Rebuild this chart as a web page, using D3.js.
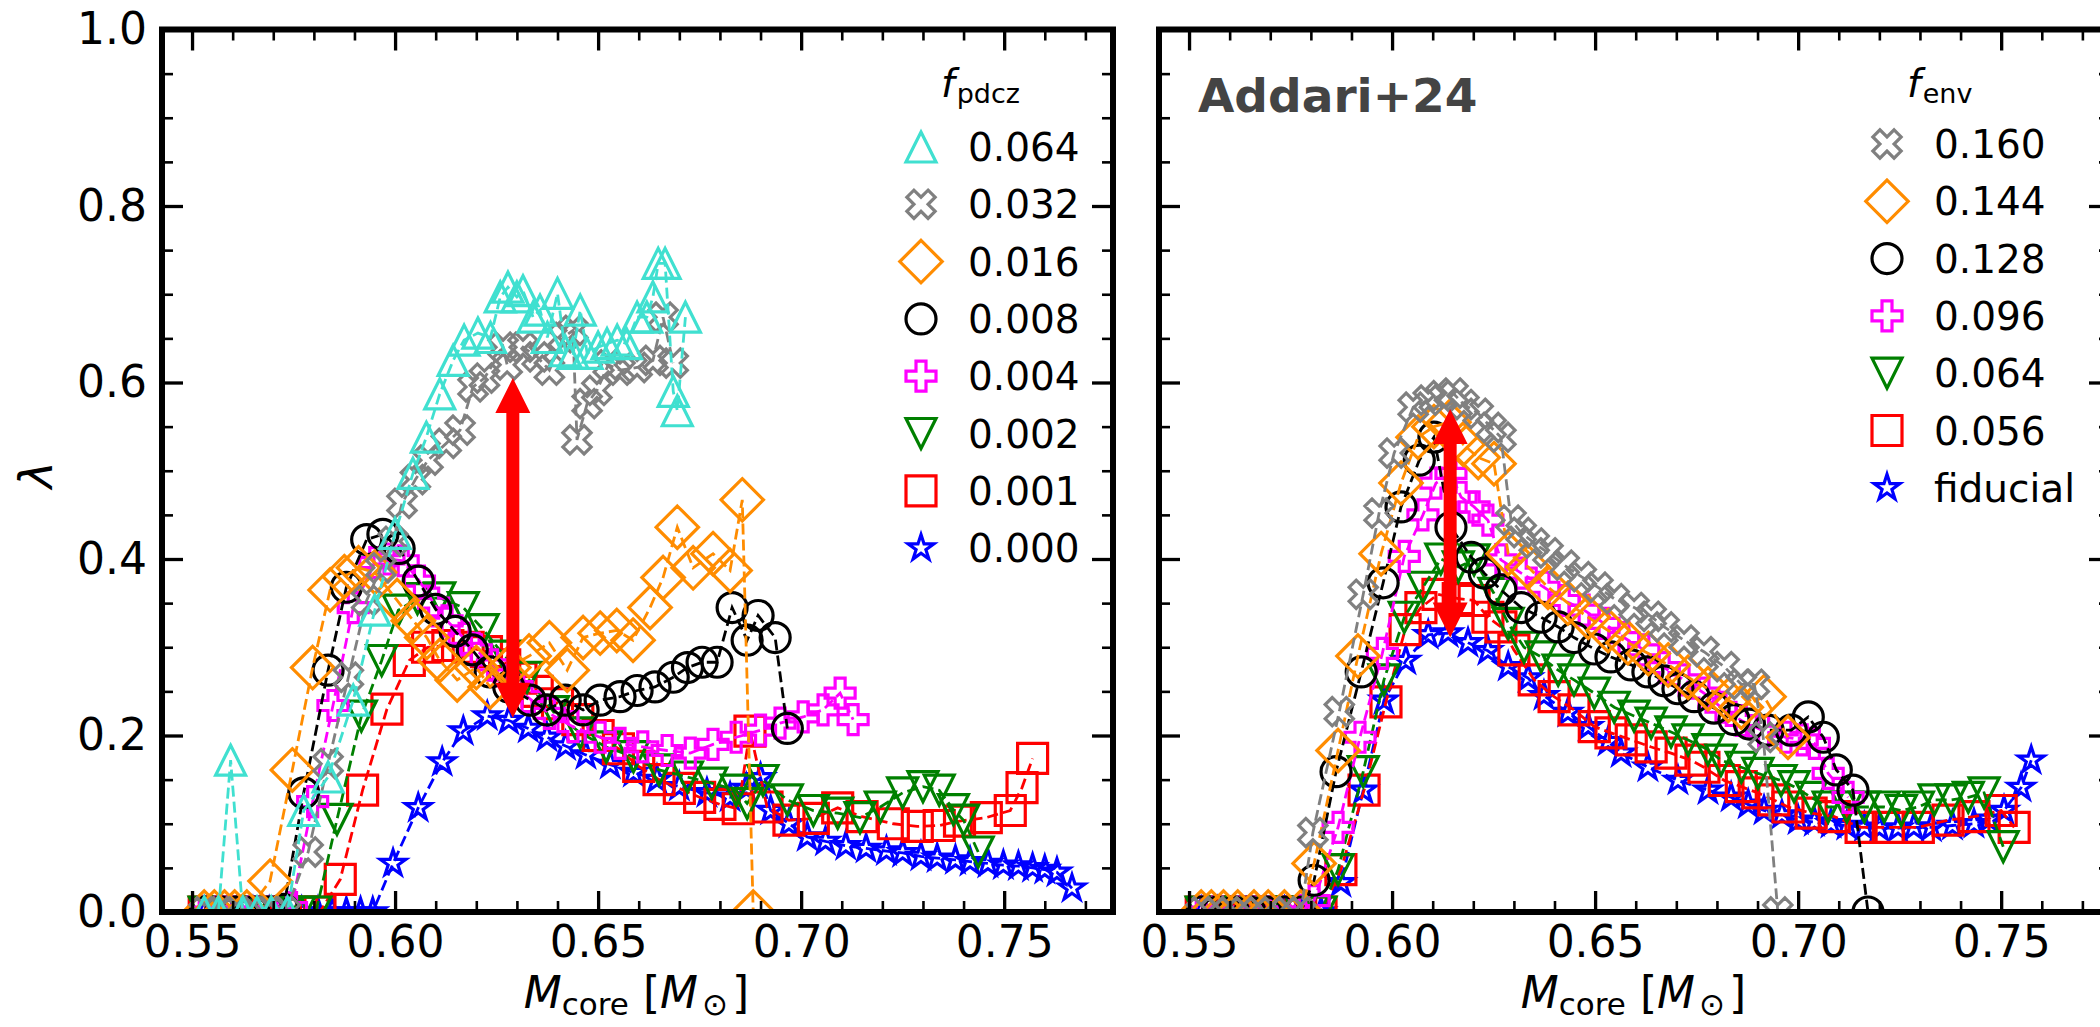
<!DOCTYPE html>
<html>
<head>
<meta charset="utf-8">
<script src="https://cdn.jsdelivr.net/npm/d3@7"></script>
<style>
  html, body { margin: 0; padding: 0; background: #fff; }
  svg { display: block; }
  text { font-family: 'DejaVu Sans', sans-serif; }
</style>
</head>
<body>
<svg id="chart" width="2100" height="1027"></svg>
<script>
(function () {

'use strict';

// ---- left panel: f_pdcz runs, [M_core, lambda] ----
var pdcz064 = [[0.553,0],[0.5565,0],[0.5595,0.172],[0.5625,0],[0.566,0],[0.5695,0],[0.5735,0],[0.5775,0.115],[0.5835,0.153],[0.5897,0.24],[0.595,0.342],[0.600,0.429],[0.6044,0.497],[0.6077,0.538],[0.611,0.587],[0.6143,0.625],[0.617,0.648],[0.6204,0.656],[0.6235,0.651],[0.6259,0.697],[0.6278,0.708],[0.630,0.697],[0.6315,0.704],[0.634,0.674],[0.6357,0.682],[0.6375,0.651],[0.640,0.701],[0.6419,0.636],[0.6438,0.633],[0.6456,0.682],[0.6473,0.633],[0.650,0.64],[0.6522,0.644],[0.6547,0.648],[0.657,0.644],[0.6596,0.674],[0.662,0.674],[0.6635,0.697],[0.6648,0.735],[0.6665,0.735],[0.6685,0.59],[0.6695,0.568],[0.6715,0.674]];
var pdcz032 = [[0.553,0],[0.557,0],[0.561,0],[0.565,0],[0.569,0],[0.573,0],[0.5786,0.068],[0.5835,0.168],[0.5885,0.266],[0.593,0.353],[0.5965,0.39],[0.5995,0.42],[0.6017,0.463],[0.605,0.49],[0.6081,0.512],[0.6126,0.531],[0.616,0.546],[0.6192,0.595],[0.622,0.605],[0.6266,0.64],[0.6276,0.62],[0.6315,0.64],[0.635,0.629],[0.638,0.614],[0.6414,0.651],[0.6438,0.659],[0.6448,0.535],[0.6473,0.576],[0.6497,0.591],[0.6525,0.62],[0.6554,0.614],[0.6596,0.617],[0.6635,0.625],[0.666,0.674],[0.6685,0.622]];
var pdcz016 = [[0.553,0],[0.5555,0],[0.558,0],[0.5605,0],[0.5635,0],[0.5692,0.035],[0.5747,0.161],[0.5797,0.277],[0.584,0.365],[0.5875,0.38],[0.591,0.39],[0.595,0.385],[0.6005,0.353],[0.6045,0.33],[0.6078,0.311],[0.611,0.285],[0.6153,0.263],[0.620,0.277],[0.6234,0.255],[0.628,0.277],[0.633,0.29],[0.638,0.305],[0.6424,0.274],[0.6463,0.311],[0.6505,0.316],[0.6546,0.319],[0.6586,0.308],[0.6628,0.345],[0.666,0.379],[0.6695,0.436],[0.6734,0.39],[0.6783,0.406],[0.6825,0.387],[0.6855,0.467],[0.6882,0]];
var pdcz008 = [[0.553,0],[0.557,0],[0.561,0],[0.565,0],[0.569,0],[0.5725,0.003],[0.5775,0.135],[0.5835,0.274],[0.588,0.368],[0.593,0.422],[0.597,0.428],[0.601,0.412],[0.6057,0.375],[0.61,0.343],[0.6148,0.318],[0.619,0.297],[0.6234,0.272],[0.628,0.255],[0.6333,0.24],[0.6374,0.229],[0.6419,0.24],[0.6463,0.229],[0.6505,0.24],[0.6554,0.244],[0.6596,0.251],[0.664,0.255],[0.6685,0.266],[0.672,0.277],[0.6756,0.283],[0.6793,0.283],[0.683,0.345],[0.6867,0.308],[0.6894,0.336],[0.6936,0.311],[0.6966,0.208]];
var pdcz004 = [[0.553,0],[0.557,0],[0.561,0],[0.565,0],[0.5695,0],[0.5745,0.005],[0.5797,0.125],[0.5847,0.234],[0.5897,0.345],[0.595,0.396],[0.5985,0.40],[0.602,0.398],[0.606,0.375],[0.6095,0.35],[0.6128,0.33],[0.617,0.31],[0.620,0.297],[0.624,0.28],[0.628,0.262],[0.6325,0.244],[0.638,0.225],[0.6438,0.21],[0.6505,0.198],[0.6554,0.191],[0.661,0.187],[0.667,0.183],[0.6727,0.18],[0.6783,0.19],[0.684,0.198],[0.690,0.206],[0.6948,0.214],[0.7005,0.221],[0.7054,0.229],[0.7096,0.248],[0.7128,0.218]];
var pdcz002 = [[0.553,0],[0.557,0],[0.561,0],[0.565,0],[0.569,0],[0.573,0],[0.5765,0],[0.5805,0],[0.5857,0.105],[0.5917,0.222],[0.5967,0.285],[0.6008,0.342],[0.6055,0.355],[0.611,0.356],[0.6168,0.345],[0.6217,0.32],[0.627,0.29],[0.6325,0.266],[0.639,0.227],[0.6456,0.203],[0.652,0.187],[0.6587,0.176],[0.665,0.161],[0.672,0.153],[0.678,0.146],[0.684,0.138],[0.6867,0.123],[0.6906,0.149],[0.6966,0.127],[0.703,0.115],[0.709,0.112],[0.7145,0.107],[0.7195,0.119],[0.725,0.135],[0.730,0.142],[0.734,0.138],[0.7375,0.116],[0.74,0.104],[0.7436,0.068]];
var pdcz001 = [[0.553,0],[0.557,0],[0.561,0],[0.565,0],[0.569,0],[0.573,0],[0.577,0],[0.5815,0],[0.5865,0.037],[0.592,0.138],[0.598,0.23],[0.6035,0.285],[0.608,0.30],[0.613,0.302],[0.618,0.30],[0.6225,0.295],[0.627,0.28],[0.631,0.265],[0.635,0.25],[0.64,0.236],[0.645,0.218],[0.65,0.2],[0.655,0.185],[0.66,0.165],[0.665,0.15],[0.67,0.14],[0.675,0.13],[0.68,0.122],[0.6845,0.117],[0.6874,0.205],[0.6916,0.119],[0.697,0.104],[0.703,0.106],[0.709,0.118],[0.715,0.108],[0.7227,0.1],[0.7286,0.097],[0.734,0.098],[0.739,0.103],[0.7456,0.107],[0.7515,0.115],[0.7544,0.141],[0.757,0.174]];
var pdcz000 = [[0.553,0],[0.557,0],[0.561,0],[0.565,0],[0.569,0],[0.573,0],[0.577,0],[0.581,0],[0.5845,0],[0.588,0],[0.5915,0],[0.5945,0],[0.5995,0.055],[0.6057,0.118],[0.6116,0.17],[0.6168,0.205],[0.6227,0.222],[0.628,0.217],[0.6328,0.208],[0.6374,0.198],[0.642,0.188],[0.647,0.178],[0.653,0.167],[0.6587,0.158],[0.6645,0.15],[0.670,0.142],[0.6768,0.135],[0.6825,0.13],[0.6865,0.14],[0.690,0.152],[0.6925,0.115],[0.697,0.1],[0.7015,0.085],[0.706,0.08],[0.711,0.075],[0.716,0.072],[0.721,0.069],[0.725,0.067],[0.7295,0.063],[0.7335,0.061],[0.738,0.059],[0.7416,0.057],[0.746,0.055],[0.7498,0.053],[0.7535,0.052],[0.757,0.05],[0.760,0.048],[0.763,0.045],[0.7667,0.027]];

// ---- right panel: f_env runs ----
var env160 = [[0.553,0],[0.5565,0],[0.56,0],[0.5635,0],[0.567,0],[0.5705,0],[0.574,0],[0.5775,0],[0.5805,0.09],[0.587,0.227],[0.5929,0.36],[0.5968,0.452],[0.6005,0.52],[0.6052,0.572],[0.6089,0.58],[0.612,0.585],[0.615,0.588],[0.6177,0.575],[0.6212,0.565],[0.6244,0.549],[0.6268,0.538],[0.6293,0.444],[0.6318,0.43],[0.635,0.418],[0.6384,0.407],[0.6424,0.393],[0.6466,0.38],[0.6507,0.368],[0.6547,0.355],[0.6596,0.345],[0.6638,0.335],[0.667,0.323],[0.6719,0.308],[0.6768,0.295],[0.6818,0.278],[0.686,0.258],[0.6892,0.258],[0.6914,0.198],[0.695,0]];
var env144 = [[0.553,0],[0.5555,0],[0.5585,0],[0.562,0],[0.566,0],[0.5695,0],[0.5735,0],[0.5775,0],[0.5808,0.055],[0.5867,0.183],[0.5916,0.29],[0.5973,0.406],[0.6022,0.486],[0.6064,0.538],[0.6103,0.55],[0.614,0.555],[0.6175,0.53],[0.6212,0.515],[0.6251,0.508],[0.6286,0.406],[0.6335,0.391],[0.6384,0.368],[0.6433,0.35],[0.6483,0.334],[0.6532,0.319],[0.6581,0.305],[0.6631,0.293],[0.668,0.28],[0.6729,0.266],[0.6778,0.253],[0.6828,0.24],[0.686,0.232],[0.6916,0.244],[0.6975,0.198]];
var env128 = [[0.553,0],[0.557,0],[0.561,0],[0.565,0],[0.569,0],[0.5735,0],[0.5775,0],[0.5808,0.036],[0.5862,0.159],[0.5924,0.272],[0.5978,0.373],[0.6022,0.459],[0.6067,0.512],[0.6103,0.538],[0.6145,0.436],[0.6195,0.402],[0.6227,0.384],[0.6268,0.365],[0.6318,0.345],[0.6367,0.334],[0.6409,0.323],[0.6448,0.311],[0.6498,0.298],[0.6539,0.289],[0.6589,0.28],[0.663,0.272],[0.667,0.262],[0.6704,0.253],[0.6744,0.244],[0.6793,0.231],[0.6842,0.218],[0.688,0.213],[0.6926,0.206],[0.6983,0.206],[0.7025,0.221],[0.7062,0.198],[0.7094,0.161],[0.7135,0.138],[0.7172,0]];
var env096 = [[0.553,0],[0.557,0],[0.561,0],[0.565,0],[0.569,0],[0.5735,0],[0.5775,0],[0.5808,0.013],[0.5867,0.096],[0.5921,0.198],[0.5976,0.293],[0.603,0.403],[0.6076,0.45],[0.6108,0.486],[0.6145,0.497],[0.617,0.47],[0.6202,0.459],[0.6236,0.444],[0.6268,0.399],[0.6318,0.384],[0.6374,0.368],[0.6424,0.353],[0.6473,0.342],[0.6522,0.327],[0.6571,0.311],[0.662,0.297],[0.667,0.277],[0.6719,0.263],[0.6768,0.248],[0.681,0.232],[0.686,0.217],[0.6915,0.205],[0.697,0.198],[0.701,0.195],[0.704,0.191],[0.7074,0.157],[0.7123,0.13]];
var env064 = [[0.553,0],[0.557,0],[0.561,0],[0.565,0],[0.569,0],[0.5735,0],[0.5775,0],[0.5825,0],[0.5867,0.048],[0.5929,0.159],[0.598,0.263],[0.603,0.334],[0.6076,0.368],[0.612,0.40],[0.6163,0.391],[0.6202,0.399],[0.6251,0.361],[0.6286,0.327],[0.6325,0.30],[0.6367,0.289],[0.6409,0.274],[0.6448,0.263],[0.6498,0.248],[0.6547,0.232],[0.6596,0.222],[0.6638,0.214],[0.6687,0.204],[0.6729,0.195],[0.6778,0.184],[0.681,0.172],[0.686,0.164],[0.6901,0.157],[0.6958,0.149],[0.699,0.142],[0.7032,0.13],[0.7074,0.119],[0.712,0.119],[0.7163,0.119],[0.7212,0.119],[0.7254,0.115],[0.7296,0.119],[0.7335,0.127],[0.7377,0.127],[0.7419,0.13],[0.7458,0.135],[0.7505,0.074]];
var env056 = [[0.553,0],[0.557,0],[0.561,0],[0.565,0],[0.569,0],[0.5735,0],[0.5775,0],[0.5825,0],[0.5874,0.048],[0.5931,0.138],[0.5985,0.238],[0.6032,0.32],[0.6071,0.345],[0.6113,0.36],[0.6163,0.355],[0.6202,0.353],[0.6236,0.334],[0.6268,0.323],[0.63,0.297],[0.635,0.263],[0.6399,0.244],[0.6448,0.229],[0.6498,0.21],[0.6539,0.203],[0.6589,0.195],[0.6638,0.187],[0.6687,0.18],[0.6736,0.172],[0.6768,0.164],[0.6818,0.149],[0.686,0.142],[0.6901,0.135],[0.694,0.127],[0.6975,0.119],[0.7032,0.112],[0.7089,0.108],[0.7155,0.096],[0.7222,0.096],[0.7296,0.096],[0.7369,0.104],[0.7433,0.108],[0.75,0.115],[0.7532,0.096]];
var envFid = [[0.553,0],[0.557,0],[0.561,0],[0.565,0],[0.569,0],[0.5735,0],[0.5775,0],[0.5825,0],[0.5874,0.033],[0.5929,0.138],[0.598,0.24],[0.6034,0.285],[0.6089,0.314],[0.6138,0.316],[0.6187,0.305],[0.6236,0.296],[0.6286,0.278],[0.6335,0.265],[0.6374,0.245],[0.6433,0.226],[0.6483,0.21],[0.6532,0.193],[0.6564,0.18],[0.663,0.164],[0.6704,0.149],[0.6778,0.138],[0.6835,0.13],[0.6877,0.122],[0.6916,0.115],[0.696,0.11],[0.70,0.104],[0.704,0.102],[0.7081,0.1],[0.712,0.098],[0.7163,0.096],[0.72,0.095],[0.7246,0.095],[0.7285,0.096],[0.7328,0.096],[0.738,0.098],[0.7433,0.1],[0.747,0.105],[0.7507,0.115],[0.7549,0.141],[0.7574,0.172]];

// legend order (top to bottom); drawn in reverse so the first entry sits on top
var pdczLabels = ['0.064', '0.032', '0.016', '0.008', '0.004', '0.002', '0.001', '0.000'];
var pdczSeries = [pdcz064, pdcz032, pdcz016, pdcz008, pdcz004, pdcz002, pdcz001, pdcz000];
var pdczColors = ['#40e0d0', '#808080', '#ff8c00', '#000000', '#ff00ff', '#008000', '#ff0000', '#0000ff'];
var pdczMarkers = ['triUp', 'xFill', 'diamond', 'circle', 'plusFill', 'triDown', 'square', 'star'];

var envLabels = ['0.160', '0.144', '0.128', '0.096', '0.064', '0.056', 'fiducial'];
var envSeries = [env160, env144, env128, env096, env064, env056, envFid];
var envColors = ['#808080', '#ff8c00', '#000000', '#ff00ff', '#008000', '#ff0000', '#0000ff'];
var envMarkers = ['xFill', 'diamond', 'circle', 'plusFill', 'triDown', 'square', 'star'];

// double arrows: [M_core, lambda low, lambda high]
var pdczArrow = [0.629, 0.22, 0.605];
var envArrow = [0.6143, 0.311, 0.57];

var xMajor = [0.55, 0.60, 0.65, 0.70, 0.75];
var yMajor = [0.0, 0.2, 0.4, 0.6, 0.8, 1.0];
var xDomain = [0.5426, 0.7768];
var yDomain = [0, 1];

var top = 29.5, bottom = 912, axW = 951;
var MS = 30;

var svg = d3.select('#chart');
svg.append('rect').attr('width', 2100).attr('height', 1027).attr('fill', '#fff');

// marker shapes, size = width^2
function polyType(pts) {
  return {
    draw: function (c, size) {
      var k = Math.sqrt(size);
      pts.forEach(function (p, i) {
        if (i === 0) { c.moveTo(p[0] * k, p[1] * k); } else { c.lineTo(p[0] * k, p[1] * k); }
      });
      c.closePath();
    }
  };
}
var plusPts = [[-1,-3],[1,-3],[1,-1],[3,-1],[3,1],[1,1],[1,3],[-1,3],[-1,1],[-3,1],[-3,-1],[-1,-1]]
  .map(function (p) { return [p[0] / 6, p[1] / 6]; });
var xPts = plusPts.map(function (p) {
  var a = Math.PI / 4;
  return [p[0] * Math.cos(a) - p[1] * Math.sin(a), p[0] * Math.sin(a) + p[1] * Math.cos(a)];
});
var starPts = d3.range(10).map(function (i) {
  var r = (i % 2 === 0) ? 0.45 : 0.45 * 0.381966;
  var a = -Math.PI / 2 + i * Math.PI / 5;
  return [r * Math.cos(a), r * Math.sin(a)];
});
var h = Math.SQRT1_2;
var symbols = {
  triUp: polyType([[0, -0.5], [0.5, 0.5], [-0.5, 0.5]]),
  triDown: polyType([[0, 0.5], [0.5, -0.5], [-0.5, -0.5]]),
  square: polyType([[-0.5, -0.5], [0.5, -0.5], [0.5, 0.5], [-0.5, 0.5]]),
  diamond: polyType([[0, -h], [h, 0], [0, h], [-h, 0]]),
  plusFill: polyType(plusPts),
  xFill: polyType(xPts),
  star: polyType(starPts),
  circle: {
    draw: function (c, size) {
      var r = Math.sqrt(size) / 2;
      c.moveTo(r, 0);
      c.arc(0, 0, r, 0, 2 * Math.PI);
    }
  }
};

function drawPanel(opts) {
  var x = d3.scaleLinear().domain(xDomain).range([opts.left, opts.left + axW]);
  var y = d3.scaleLinear().domain(yDomain).range([bottom, top]);

  var clipId = 'clip' + opts.id;
  svg.append('clipPath').attr('id', clipId)
    .append('rect')
    .attr('x', opts.left).attr('y', top)
    .attr('width', axW).attr('height', bottom - top);

  var plot = svg.append('g').attr('clip-path', 'url(#' + clipId + ')');

  var line = d3.line()
    .x(function (d) { return x(d[0]); })
    .y(function (d) { return y(d[1]); });

  // last legend entry first, so the first one ends up on top
  d3.range(opts.series.length - 1, -1, -1).forEach(function (i) {
    var data = opts.series[i];
    var color = opts.colors[i];
    var g = plot.append('g');
    g.append('path')
      .attr('d', line(data))
      .attr('fill', 'none')
      .attr('stroke', color)
      .attr('stroke-width', 2.8)
      .attr('stroke-dasharray', '11,5');
    var sym = d3.symbol().type(symbols[opts.markers[i]]).size(MS * MS);
    g.selectAll('path.mk')
      .data(data)
      .enter()
      .append('path')
      .attr('class', 'mk')
      .attr('d', sym)
      .attr('transform', function (d) { return 'translate(' + x(d[0]) + ',' + y(d[1]) + ')'; })
      .attr('fill', 'none')
      .attr('stroke', color)
      .attr('stroke-width', 3.2);
  });

  // red double arrow
  var ax = x(opts.arrow[0]), y0 = y(opts.arrow[1]), y1 = y(opts.arrow[2]);
  var sw = 6.5, hw = 17.5, hl = 35;
  var pts = [
    [ax, y1], [ax + hw, y1 + hl], [ax + sw, y1 + hl], [ax + sw, y0 - hl], [ax + hw, y0 - hl],
    [ax, y0], [ax - hw, y0 - hl], [ax - sw, y0 - hl], [ax - sw, y1 + hl], [ax - hw, y1 + hl]
  ];
  svg.append('polygon')
    .attr('points', pts.map(function (p) { return p.join(','); }).join(' '))
    .attr('fill', '#ff0000');

  // ticks, all pointing inward on four sides
  var xMinor = d3.range(55, 78).filter(function (i) { return i % 5; }).map(function (i) { return i / 100; });
  var yMinor = d3.range(0, 21).filter(function (i) { return i % 4; }).map(function (i) { return i / 20; });
  var axes = [
    { ax: d3.axisBottom(x), t: 'translate(0,' + bottom + ')', major: xMajor, minor: xMinor, fmt: d3.format('.2f'), pad: 14 },
    { ax: d3.axisTop(x), t: 'translate(0,' + top + ')', major: xMajor, minor: xMinor, fmt: null, pad: 14 },
    { ax: d3.axisLeft(y), t: 'translate(' + opts.left + ',0)', major: yMajor, minor: yMinor, fmt: opts.yLabels ? d3.format('.1f') : null, pad: 15 },
    { ax: d3.axisRight(y), t: 'translate(' + (opts.left + axW) + ',0)', major: yMajor, minor: yMinor, fmt: null, pad: 14 }
  ];
  axes.forEach(function (a) {
    var gMin = svg.append('g').attr('transform', a.t)
      .call(a.ax.tickValues(a.minor).tickSizeInner(-11).tickSizeOuter(0).tickFormat(''));
    gMin.select('.domain').remove();
    gMin.selectAll('line').attr('stroke', '#000').attr('stroke-width', 2.6);

    var gMaj = svg.append('g').attr('transform', a.t)
      .call(a.ax.tickValues(a.major).tickSizeInner(-21).tickSizeOuter(0)
        .tickPadding(a.pad)
        .tickFormat(a.fmt || function () { return ''; }));
    gMaj.select('.domain').remove();
    gMaj.selectAll('line').attr('stroke', '#000').attr('stroke-width', 3.3);
    gMaj.attr('font-family', "'DejaVu Sans', sans-serif").attr('font-size', 44);
    gMaj.selectAll('text').attr('fill', '#000');
  });

  // spines
  svg.append('rect')
    .attr('x', opts.left).attr('y', top)
    .attr('width', axW).attr('height', bottom - top)
    .attr('fill', 'none')
    .attr('stroke', '#000')
    .attr('stroke-width', 6);

  // x label
  var xl = svg.append('text')
    .attr('x', opts.left + axW / 2 - 1)
    .attr('y', 1008)
    .attr('text-anchor', 'middle')
    .attr('font-size', 44)
    .attr('fill', '#000');
  xl.append('tspan').attr('font-style', 'italic').text('M');
  xl.append('tspan').attr('font-size', 31).attr('dy', 7).text('core');
  xl.append('tspan').attr('dy', -7).text(' [');
  xl.append('tspan').attr('font-style', 'italic').text('M');
  xl.append('tspan').attr('font-size', 31).attr('dy', 7).attr('dx', 4).text('\u2299');
  xl.append('tspan').attr('dy', -7).attr('dx', 4).text(']');

  // legend
  var lg = svg.append('g');
  var title = lg.append('text')
    .attr('x', opts.legendX + 20)
    .attr('y', 97)
    .attr('font-size', 39)
    .attr('fill', '#000');
  title.append('tspan').attr('font-style', 'italic').text('f');
  title.append('tspan').attr('font-size', 27).attr('dy', 6).attr('dx', 2).text(opts.sub);

  opts.labels.forEach(function (lab, i) {
    var cy = opts.legendY + i * 57.3;
    lg.append('path')
      .attr('d', d3.symbol().type(symbols[opts.markers[i]]).size(MS * MS)())
      .attr('transform', 'translate(' + opts.legendX + ',' + cy + ')')
      .attr('fill', 'none')
      .attr('stroke', opts.colors[i])
      .attr('stroke-width', 3.2);
    lg.append('text')
      .attr('x', opts.legendX + 47)
      .attr('y', cy)
      .attr('dy', '0.36em')
      .attr('font-size', 39)
      .attr('fill', '#000')
      .text(lab);
  });
}

drawPanel({
  id: 'L', left: 162, series: pdczSeries, colors: pdczColors, markers: pdczMarkers,
  labels: pdczLabels, arrow: pdczArrow, yLabels: true,
  legendX: 921, legendY: 147, sub: 'pdcz'
});
drawPanel({
  id: 'R', left: 1159, series: envSeries, colors: envColors, markers: envMarkers,
  labels: envLabels, arrow: envArrow, yLabels: false,
  legendX: 1887, legendY: 144, sub: 'env'
});

// y label
svg.append('text')
  .attr('transform', 'translate(36,475) rotate(-90)')
  .attr('text-anchor', 'middle')
  .attr('dominant-baseline', 'central')
  .attr('font-size', 46)
  .attr('font-style', 'italic')
  .attr('fill', '#000')
  .text('\u03bb');

svg.append('text')
  .attr('x', 1198)
  .attr('y', 112)
  .attr('font-family', "'Open Sans', sans-serif")
  .attr('font-weight', 700)
  .attr('font-size', 47)
  .attr('fill', '#444')
  .text('Addari+24');

})();
</script>
</body>
</html>
